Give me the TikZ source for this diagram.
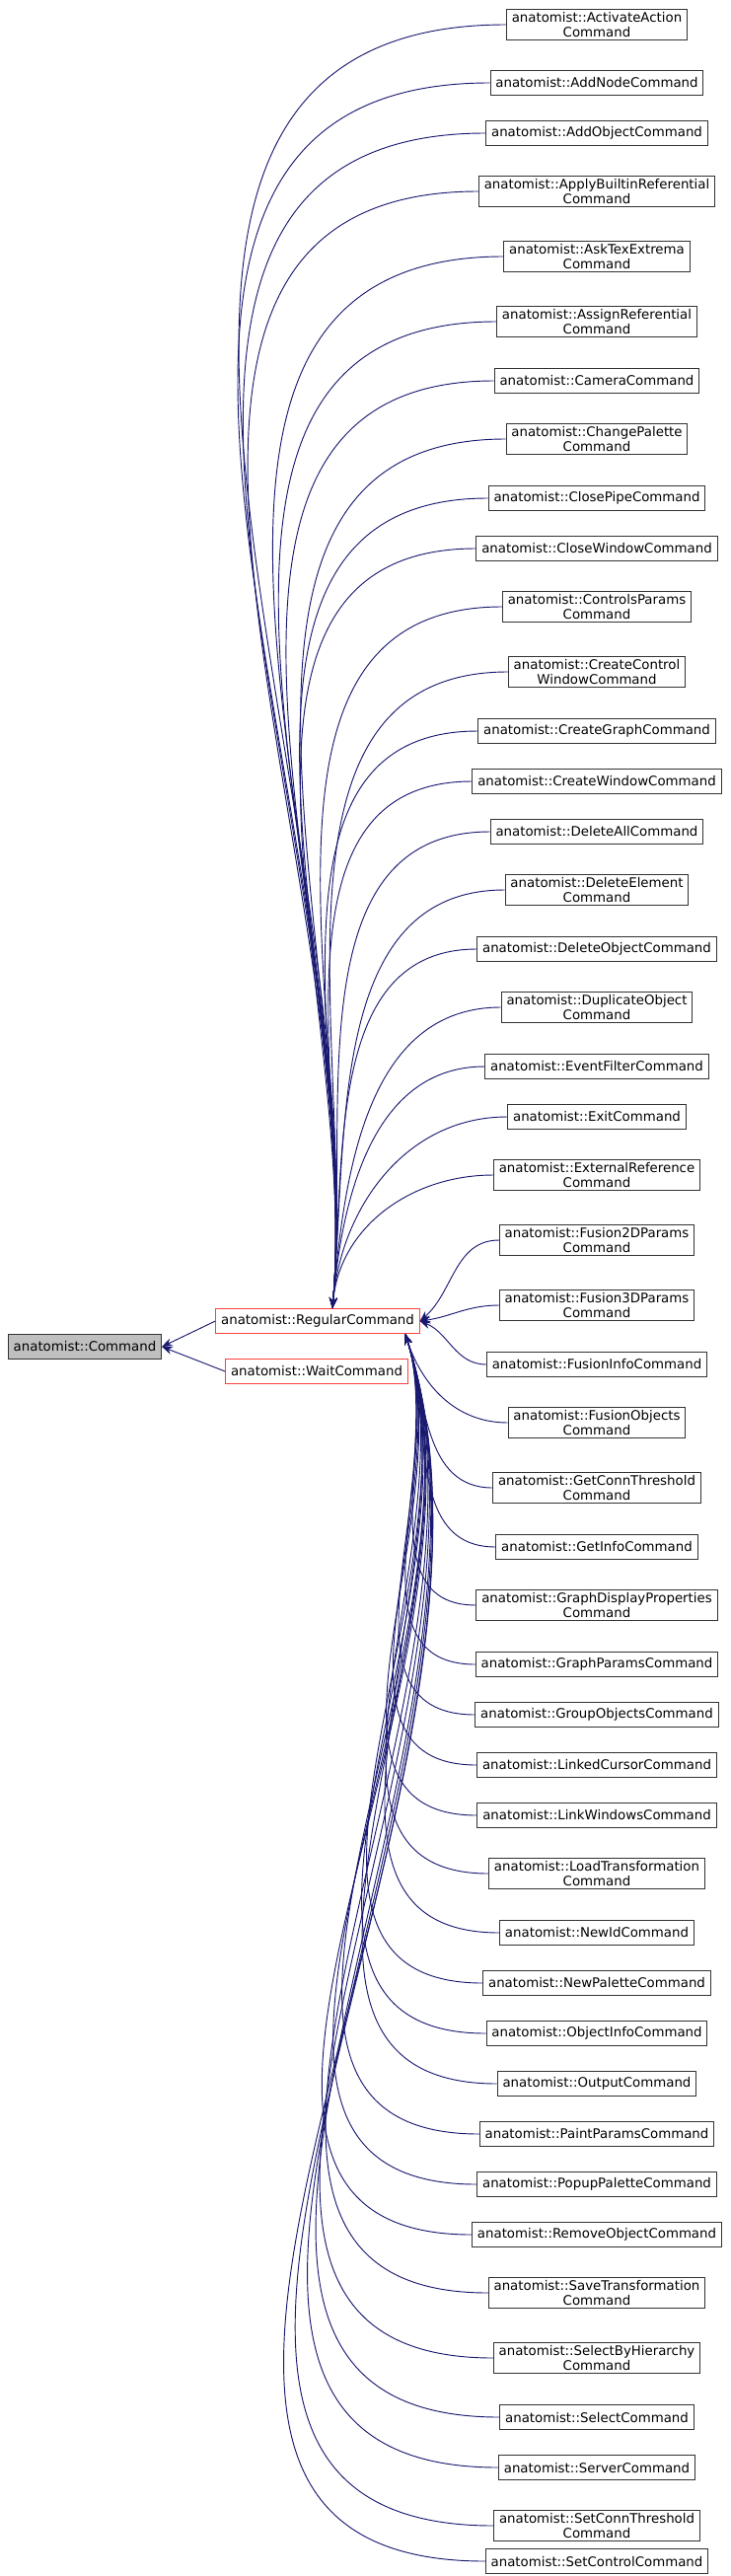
\documentclass[tikz,border=0pt]{standalone}
\usepackage{fontspec}
\setmainfont{DejaVu Sans}
\usetikzlibrary{positioning}
\usetikzlibrary{calc}
\usetikzlibrary{arrows.meta}
\definecolor{edgeblue}{RGB}{25,25,112}
\begin{document}
\begin{tikzpicture}[x=0.75pt, y=-0.75pt]
% -------------------------------------------------
\tikzset{
  base/.style={draw, rectangle, align=center, font=\fontsize{10}{11.5}\selectfont, inner xsep=4pt, inner ysep=2pt, minimum height=18.75pt, line width=0.75pt},
  cls/.style={base, draw=black!80},
  root/.style={base, fill=black!25, draw=black!80},
  part/.style={base, draw=red!75},
  line/.style={draw=edgeblue, line width=0.7pt, {Stealth[length=8pt,width=6pt]}-}
}
\useasboundingbox (0,0) rectangle (740,2611);
\node [root] (cmd) at (86,1365) {anatomist::Command};
\node [part] (reg) at (322,1339) {anatomist::RegularCommand};
\node [part] (wait) at (321,1390) {anatomist::WaitCommand};
\path [line] (cmd.east) -- (reg.west);
\path [line] (cmd.east) -- (wait.west);
\foreach \y/\txt [count=\i] in {
  25/{anatomist::ActivateAction\\Command},
  84/{anatomist::AddNodeCommand},
  135/{anatomist::AddObjectCommand},
  194/{anatomist::ApplyBuiltinReferential\\Command},
  260/{anatomist::AskTexExtrema\\Command},
  326/{anatomist::AssignReferential\\Command},
  386/{anatomist::CameraCommand},
  445/{anatomist::ChangePalette\\Command},
  505/{anatomist::ClosePipeCommand},
  556/{anatomist::CloseWindowCommand},
  615/{anatomist::ControlsParams\\Command},
  681/{anatomist::CreateControl\\WindowCommand},
  741/{anatomist::CreateGraphCommand},
  792/{anatomist::CreateWindowCommand},
  843/{anatomist::DeleteAllCommand},
  902/{anatomist::DeleteElement\\Command},
  962/{anatomist::DeleteObjectCommand},
  1021/{anatomist::DuplicateObject\\Command},
  1081/{anatomist::EventFilterCommand},
  1132/{anatomist::ExitCommand},
  1191/{anatomist::ExternalReference\\Command},
  1257/{anatomist::Fusion2DParams\\Command},
  1323/{anatomist::Fusion3DParams\\Command},
  1383/{anatomist::FusionInfoCommand},
  1442/{anatomist::FusionObjects\\Command},
  1508/{anatomist::GetConnThreshold\\Command},
  1568/{anatomist::GetInfoCommand},
  1627/{anatomist::GraphDisplayProperties\\Command},
  1687/{anatomist::GraphParamsCommand},
  1738/{anatomist::GroupObjectsCommand},
  1789/{anatomist::LinkedCursorCommand},
  1840/{anatomist::LinkWindowsCommand},
  1899/{anatomist::LoadTransformation\\Command},
  1959/{anatomist::NewIdCommand},
  2010/{anatomist::NewPaletteCommand},
  2061/{anatomist::ObjectInfoCommand},
  2112/{anatomist::OutputCommand},
  2163/{anatomist::PaintParamsCommand},
  2214/{anatomist::PopupPaletteCommand},
  2265/{anatomist::RemoveObjectCommand},
  2324/{anatomist::SaveTransformation\\Command},
  2390/{anatomist::SelectByHierarchy\\Command},
  2450/{anatomist::SelectCommand},
  2501/{anatomist::ServerCommand},
  2560/{anatomist::SetConnThreshold\\Command},
  2596/{anatomist::SetControlCommand}} {
  \node [cls] (c\i) at (605,\y) {\txt};
  \ifnum\y<1250
    \path [line] ($(reg.north)+(15,0)$) to[out=85, in=180] (c\i.west);
  \else\ifnum\y<1420
    \path [line] (reg.east) to[out={(1339-\y)/2}, in=180] (c\i.west);
  \else
    \path [line] ($(reg.south east)+(-15,0)$) to[out=-72, in=180] (c\i.west);
  \fi\fi
}
\end{tikzpicture}
\end{document}
